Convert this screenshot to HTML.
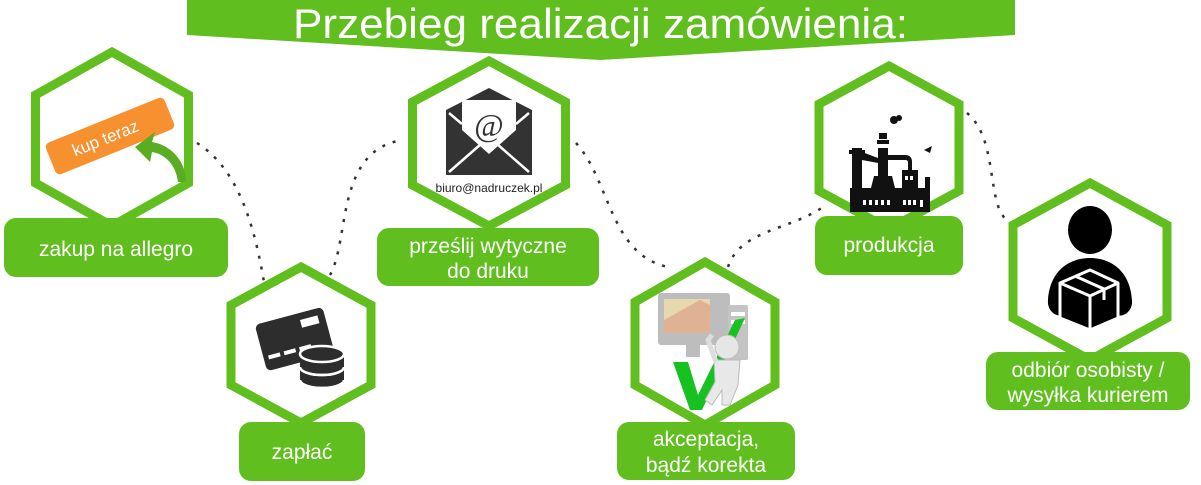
<!DOCTYPE html>
<html><head><meta charset="utf-8"><style>
html,body{margin:0;padding:0;background:#fff;}
svg{display:block;}
text{font-family:"Liberation Sans",sans-serif;fill:#fff;}
</style></head><body>
<svg width="1201" height="485" viewBox="0 0 1201 485" xmlns="http://www.w3.org/2000/svg">
<!-- banner -->
<polygon points="187,0 1015,0 1015,35 600,60 187,35" fill="#60bf1e"/>
<text x="293" y="38" font-size="42" textLength="615" lengthAdjust="spacingAndGlyphs">Przebieg realizacji zamówienia:</text>

<!-- connectors -->
<g fill="none" stroke="#333" stroke-width="2.5" stroke-dasharray="3 8">
<path d="M197,143 C240,170 255,230 264,282"/>
<path d="M330,275 C350,240 335,150 403,140"/>
<path d="M576,143 C610,180 610,255 668,267"/>
<path d="M728,267 C740,230 790,230 823,207"/>
<path d="M967,113 C1000,140 985,210 1010,222"/>
</g>

<!-- hexagons -->
<g fill="#fff" stroke="#60bf1e" stroke-width="9" stroke-linejoin="miter">
<polygon points="112,52 188.5,95 188.5,183 112,226 35.5,183 35.5,95"/>
<polygon points="301,267 371,305 371,385 301,423 231,385 231,305"/>
<polygon points="489,61 565.5,102 565.5,185 489,226 412.5,185 412.5,102"/>
<polygon points="705,262 775,302 775,385 705,425 635,385 635,302"/>
<polygon points="889,66 959,104 959,191 889,229 819,191 819,104"/>
<polygon points="1090,183 1167,225 1167,318 1090,360 1013,318 1013,225"/>
</g>

<!-- icon 1: kup teraz -->
<g transform="translate(110,136) rotate(-22)">
<rect x="-64" y="-17" width="128" height="34" rx="5" fill="#f7902f"/>
<text x="-40" y="6" font-size="17">kup teraz</text>
</g>
<path d="M186,182 C186,160 170,145 152,142 L155,132 L135,147 L150,162 L152,152 C165,154 176,165 178,182 Z" fill="#5aac22"/>

<!-- icon 2: card + coins -->
<g transform="translate(295,340) rotate(-15)">
<rect x="-35" y="-25" width="70" height="48" rx="5" fill="#2d2d2d"/>
<rect x="10" y="-18" width="18" height="8" fill="#fff"/>
<rect x="-30" y="8" width="12" height="4" fill="#fff"/><rect x="-14" y="8" width="12" height="4" fill="#fff"/><rect x="2" y="8" width="12" height="4" fill="#fff"/>
</g>
<g fill="#2d2d2d" stroke="#fff" stroke-width="2.5">
<ellipse cx="322" cy="380" rx="22" ry="8"/>
<rect x="300" y="366" width="44" height="14" stroke="none"/>
<ellipse cx="322" cy="367" rx="22" ry="8"/>
<rect x="300" y="353" width="44" height="14" stroke="none"/>
<ellipse cx="322" cy="354" rx="22" ry="8"/>
</g>
<g fill="none" stroke="#fff" stroke-width="2.5"><path d="M300,367 A22,8 0 0 0 344,367"/><path d="M300,380 A22,8 0 0 0 344,380"/></g>

<!-- icon 3: envelope -->
<path d="M446,110 L489,88 L532,110 L532,175 L446,175 Z" fill="#333"/>
<polygon points="462,100 516,100 516,130 489,154 462,130" fill="#fff"/>
<path d="M449,172 L481,144 M529,172 L497,144 M449,113 L462,124 M529,113 L516,124" stroke="#fff" stroke-width="2.5"/>
<text x="489" y="136" font-size="32" text-anchor="middle" style="fill:#333;font-family:'Liberation Serif',serif">@</text>
<text x="489" y="192" font-size="12" text-anchor="middle" style="fill:#222">biuro@nadruczek.pl</text>

<!-- icon 4: monitor -->
<rect x="658" y="293" width="72" height="52" rx="3" fill="#bdbdbd"/>
<rect x="664" y="299" width="46" height="34" fill="#e8d8b0"/>
<path d="M664,320 L700,300 L710,305 L710,333 L664,333 Z" fill="#d99a80" opacity="0.6"/>
<rect x="686" y="345" width="14" height="12" fill="#bdbdbd"/>
<rect x="728" y="305" width="20" height="55" rx="2" fill="#c4c4c4"/>
<rect x="731" y="312" width="14" height="4" fill="#fff"/><rect x="731" y="320" width="14" height="4" fill="#fff"/>
<path d="M673,362 L688,362 L698,395 L735,320 L745,318 L702,410 L690,410 Z" fill="#17c120"/>
<circle cx="727" cy="347" r="12" fill="#e6e6e6" stroke="#bbb"/>
<path d="M714,360 L740,360 L738,385 L730,405 L722,405 L722,390 L712,405 L705,400 L715,382 Z" fill="#e8e8e8" stroke="#bbb"/>
<path d="M716,362 L708,340 L712,335" stroke="#ddd" stroke-width="5" fill="none"/>

<!-- icon 5: factory -->
<g fill="#111">
<rect x="852" y="148" width="10" height="40"/>
<rect x="849" y="150" width="16" height="4"/>
<rect x="879" y="133" width="8" height="6"/><rect x="877" y="140" width="12" height="4"/>
<rect x="878" y="148" width="10" height="28"/>
<path d="M862,152 L878,158 L878,163 L862,160 Z"/>
<path d="M885,155 L905,155 Q912,155 912,162 L912,170 L908,170 L908,162 Q908,160 905,160 L885,160 Z"/>
<path d="M874,176 L892,176 L895,188 L871,188 Z"/>
<path d="M850,188 L925,188 L925,177 L930,177 L930,190 L930,212 L850,212 Z"/>
<rect x="902" y="170" width="16" height="18"/>
<circle cx="894" cy="120" r="4"/><circle cx="899" cy="118" r="3"/>
<path d="M924,150 L932,146 L930,153 Z"/>
</g>
<g fill="#fff"><rect x="863" y="200" width="3" height="5"/><rect x="869" y="200" width="3" height="5"/><rect x="875" y="200" width="3" height="5"/><rect x="881" y="200" width="3" height="5"/><rect x="887" y="200" width="3" height="5"/><rect x="903" y="200" width="3" height="5"/><rect x="908" y="200" width="3" height="5"/><rect x="913" y="200" width="3" height="5"/><rect x="920" y="200" width="3" height="7"/><rect x="905" y="176" width="3" height="4"/><rect x="910" y="176" width="3" height="4"/></g>

<!-- icon 6: person with box -->
<ellipse cx="1090" cy="230" rx="22" ry="24" fill="#000"/>
<path d="M1048,300 C1050,270 1070,258 1090,258 C1110,258 1130,270 1132,300 C1133,310 1125,318 1115,315 L1065,315 C1055,318 1047,310 1048,300 Z" fill="#000"/>
<path d="M1060,283 L1090,270 L1118,283 L1118,318 L1090,330 L1060,318 Z" fill="#000" stroke="#fff" stroke-width="3" stroke-linejoin="round"/>
<path d="M1060,283 L1090,296 L1118,283 M1090,296 L1090,330 M1075,276 L1104,289 L1104,300" fill="none" stroke="#fff" stroke-width="3"/>

<!-- labels -->
<g fill="#60bf1e">
<rect x="4" y="218" width="224" height="59" rx="12"/>
<rect x="239" y="422" width="126" height="59" rx="12"/>
<rect x="377" y="228" width="222" height="58" rx="12"/>
<rect x="617" y="422" width="178" height="58" rx="12"/>
<rect x="815" y="216" width="148" height="59" rx="12"/>
<rect x="986" y="352" width="204" height="58" rx="12"/>
</g>
<g font-size="21" text-anchor="middle">
<text x="116" y="256">zakup na allegro</text>
<text x="302" y="459">zapłać</text>
<text x="488" y="253">prześlij wytyczne</text>
<text x="488" y="278">do druku</text>
<text x="706" y="446">akceptacja,</text>
<text x="706" y="472">bądź korekta</text>
<text x="889" y="252">produkcja</text>
<text x="1088" y="377">odbiór osobisty /</text>
<text x="1088" y="402">wysyłka kurierem</text>
</g>
</svg>
</body></html>
